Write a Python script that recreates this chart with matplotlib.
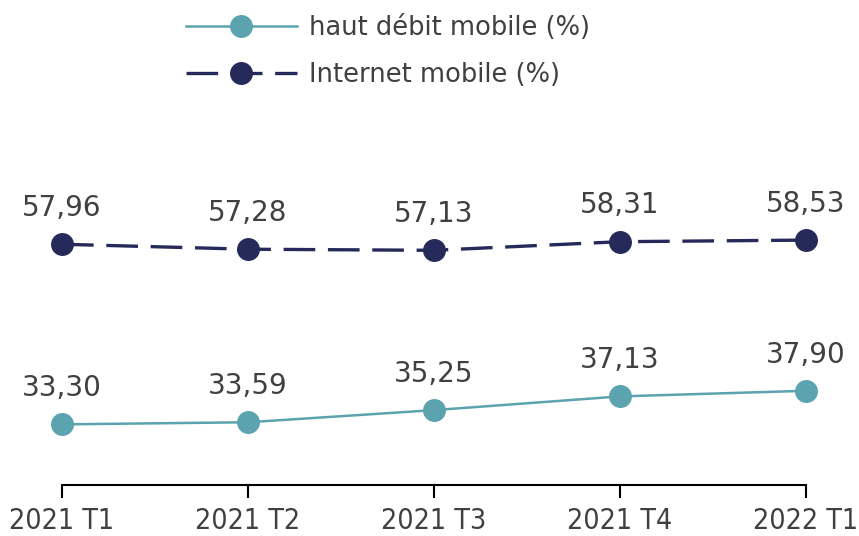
import matplotlib.pyplot as plt

periods = ['2021 T1', '2021 T2', '2021 T3', '2021 T4', '2022 T1']
haut_debit = [33.30, 33.59, 35.25, 37.13, 37.90]
internet = [57.96, 57.28, 57.13, 58.31, 58.53]

teal = '#5ba3ae'
navy = '#252a5a'
grey = '#404040'

fig = plt.figure(figsize=(8.59, 5.36), dpi=100)
ax = fig.add_axes([62 / 859, 51 / 536, 744 / 859, 485 / 536])

x = range(len(periods))
ax.plot(x, haut_debit, color=teal, lw=1.8, marker='o', ms=15.5,
        label='haut débit mobile (%)', clip_on=False)
ax.plot(x, internet, color=navy, lw=2.4, ls=(0, (9.5, 3.8)), marker='o', ms=15.5,
        label='Internet mobile (%)', clip_on=False)

for series in (haut_debit, internet):
    for xi, v in zip(x, series):
        ax.annotate(f'{v:.2f}'.replace('.', ','), (xi, v), xytext=(0, 16),
                    textcoords='offset points', ha='center', va='bottom',
                    fontsize=20, color=grey)

ax.set_xlim(0, 4)
ax.set_ylim(25, 91.4)
ax.set_xticks(list(x))
ax.set_xticklabels(periods, fontsize=20.5, color=grey, fontstretch='condensed')
ax.set_yticks([])
for s in ['top', 'right', 'left']:
    ax.spines[s].set_visible(False)
ax.spines['bottom'].set_linewidth(1.5)
ax.tick_params(axis='x', length=9, width=1.5, pad=7)

fig.legend(loc='upper center', bbox_to_anchor=(0.452, 1.015), frameon=False,
           fontsize=18.5, handlelength=4.3, labelcolor=grey, labelspacing=0.8,
           handletextpad=0.5)

fig.savefig('out.png', dpi=100)
